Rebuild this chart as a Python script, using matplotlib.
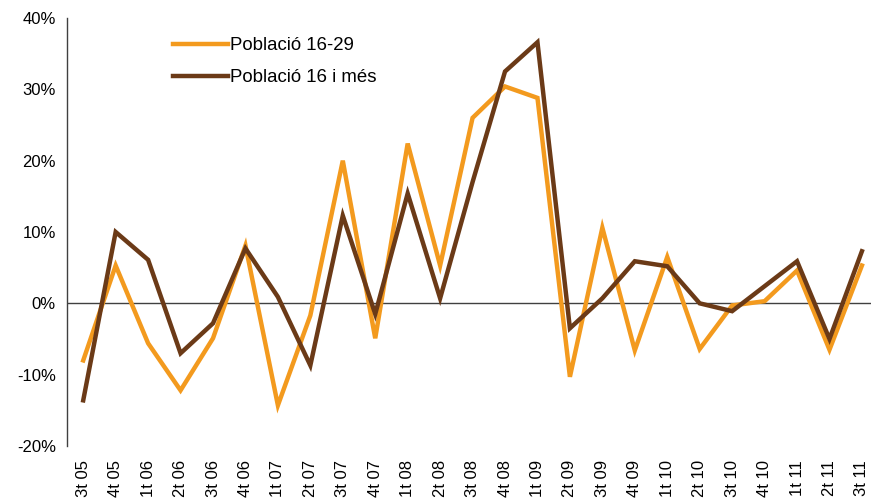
import numpy as np
import matplotlib.pyplot as plt

plt.rcParams['font.family'] = ['Liberation Sans', 'DejaVu Sans']

quarters = ['3t 05', '4t 05', '1t 06', '2t 06', '3t 06', '4t 06', '1t 07', '2t 07',
            '3t 07', '4t 07', '1t 08', '2t 08', '3t 08', '4t 08', '1t 09', '2t 09',
            '3t 09', '4t 09', '1t 10', '2t 10', '3t 10', '4t 10', '1t 11', '2t 11', '3t 11']

pob_16_29 = [-8.0, 5.3, -5.6, -12.2, -4.9, 8.1, -14.3, -1.7, 20.0, -4.9, 22.4, 5.3,
             26.0, 30.4, 28.8, -10.3, 10.6, -6.6, 6.5, -6.4, -0.3, 0.3, 4.6, -6.5, 5.3]
pob_16_mes = [-13.6, 10.0, 6.1, -7.0, -2.8, 7.7, 0.9, -8.7, 12.3, -1.5, 15.4, 0.7,
              17.0, 32.5, 36.6, -3.5, 0.7, 5.9, 5.2, 0.0, -1.1, 2.4, 5.9, -5.0, 7.3]

fig = plt.figure(figsize=(8.71, 5.01), dpi=100)
ax = fig.add_axes([67 / 871, 55 / 501, 804 / 871, 428 / 501])

x = np.arange(len(quarters))
ax.plot(x, pob_16_29, color='#F39A1E', lw=3.2, label='Població 16-29', solid_joinstyle='miter')
ax.plot(x, pob_16_mes, color='#6B3A17', lw=3.2, label='Població 16 i més', solid_joinstyle='miter')

ax.axhline(0, color='#404040', lw=1, zorder=0)

ax.set_xlim(-0.5, 24.28)
ax.set_ylim(-20, 40)
ax.set_yticks(range(-20, 41, 10))
ax.set_yticklabels([f'{v}%' for v in range(-20, 41, 10)], fontsize=12)
ax.set_xticks(x)
ax.set_xticklabels(quarters, rotation=90, fontsize=12)
ax.tick_params(axis='both', length=0)
ax.tick_params(axis='x', pad=10)
ax.tick_params(axis='y', pad=8)

for s in ['top', 'right', 'bottom']:
    ax.spines[s].set_visible(False)
ax.spines['left'].set_color('#404040')
ax.spines['left'].set_linewidth(1)

ax.legend(loc='upper left', bbox_to_anchor=(164 / 871, 1 - 28 / 501),
          bbox_transform=fig.transFigure, frameon=False, fontsize=13.4,
          handlelength=2.95, handletextpad=0.12, labelspacing=0.8, borderpad=0)

fig.savefig('out.png', dpi=100)
